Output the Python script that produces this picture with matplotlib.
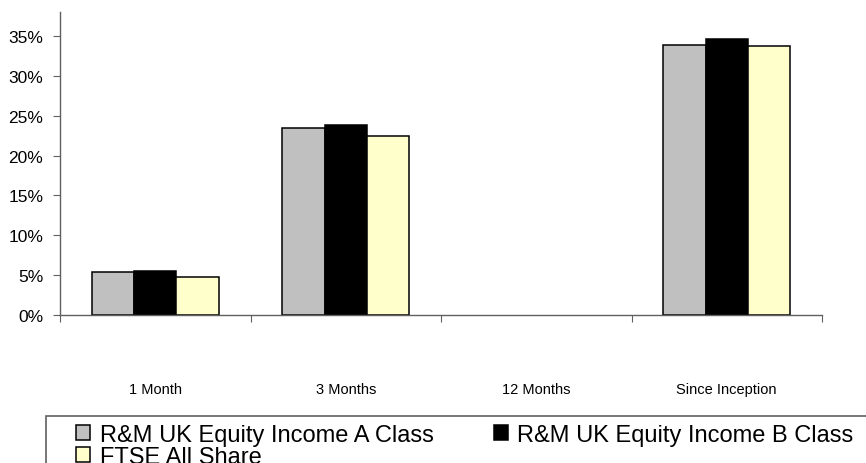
import numpy as np
import matplotlib
matplotlib.use('Agg')
import matplotlib.pyplot as plt
from matplotlib.patches import Rectangle
from matplotlib.ticker import PercentFormatter, FixedLocator

categories = ['1 Month', '3 Months', '12 Months', 'Since Inception']
class_a = [0.054, 0.235, np.nan, 0.339]
class_b = [0.055, 0.238, np.nan, 0.346]
ftse = [0.048, 0.225, np.nan, 0.337]
series = ['R&M UK Equity Income A Class', 'R&M UK Equity Income B Class', 'FTSE All Share']
colors = ['#C0C0C0', '#000000', '#FFFFCC']

plt.rcParams['font.family'] = ['Liberation Sans', 'DejaVu Sans']

W, H = 866, 464
fig = plt.figure(figsize=(W / 100, H / 100), dpi=100)
ax = fig.add_axes([60 / W, (H - 316) / H, 762 / W, 303 / H])

x = np.arange(len(categories)) + 0.5
bw = 0.223
for i, (vals, c) in enumerate(zip([class_a, class_b, ftse], colors)):
    ax.bar(x + (i - 1) * bw, vals, bw, color=c, edgecolor='black', linewidth=1.1, label=series[i])

ax.set_xlim(0, len(categories))
ax.set_ylim(0, 0.38)
ax.yaxis.set_major_locator(FixedLocator(np.arange(0, 0.36, 0.05)))
ax.yaxis.set_major_formatter(PercentFormatter(1.0, decimals=0))

ax.set_xticks(np.arange(len(categories) + 1))
ax.set_xticklabels([])
ax.set_xticks(x, minor=True)
ax.set_xticklabels(categories, minor=True, fontsize=10.5)
ax.tick_params(axis='x', which='major', direction='out', length=5, color='#606060')
ax.tick_params(axis='x', which='minor', length=0, pad=48)
ax.tick_params(axis='y', direction='out', length=5, color='#606060', labelsize=12.5, pad=7)

for s in ['top', 'right']:
    ax.spines[s].set_visible(False)
for s in ['left', 'bottom']:
    ax.spines[s].set_color('#606060')
    ax.spines[s].set_linewidth(1.0)

# legend frame, running off the bottom/right of the image
fig.patches.append(Rectangle((46 / W, -0.2), 1.0, 0.2 + (H - 417) / H,
                             transform=fig.transFigure, fill=False,
                             edgecolor='#606060', linewidth=1.2))
handles, labels = ax.get_legend_handles_labels()
order = [0, 2, 1]  # row-wise: A, B on first row, FTSE below
fig.legend([handles[i] for i in order], [labels[i] for i in order], ncol=2, loc='upper left',
           bbox_to_anchor=(76 / W, (H - 425) / H), bbox_transform=fig.transFigure,
           frameon=False, fontsize=17, borderpad=0, borderaxespad=0,
           handlelength=0.6, handleheight=0.6, handletextpad=0.4,
           columnspacing=2.55, labelspacing=0.0)

fig.savefig('out.png', dpi=100)
